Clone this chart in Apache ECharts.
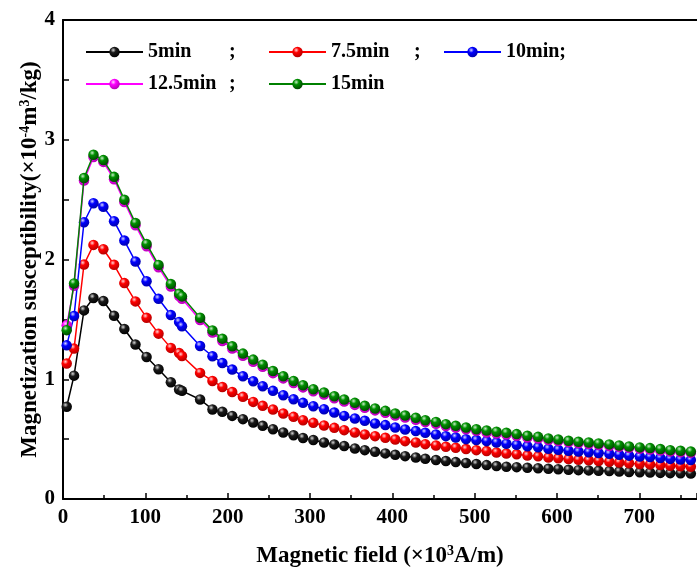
<!DOCTYPE html>
<html><head><meta charset="utf-8">
<script src="https://cdn.jsdelivr.net/npm/echarts@6/dist/echarts.min.js"></script>
<style>html,body{margin:0;padding:0;background:#fff}#c{width:697px;height:570px}</style>
</head><body><div id="c"></div>
<script>
const field = [4.5,13.4,25.5,37,49,62,74.5,88,101.5,116,131,141,144.5,166.5,181.5,193.5,205.5,218.5,231,242.5,255,267.5,280,291.5,304,317,329.5,341.5,354.5,366.5,379,391.5,403.5,415.5,428.5,440,453,465,477,489.5,502,514.5,526.5,538.5,551,564,577,589.5,601.5,614,626,638.5,650.5,663.5,675.5,687.5,700.5,713,725.5,737.5,750,762.5];

const s5min = [0.77,1.03,1.575,1.678,1.653,1.53,1.42,1.29,1.186,1.083,0.975,
  0.914,0.903,0.831,0.748,0.728,0.694,0.667,0.639,0.611,0.583,0.556,0.533,0.51,
  0.492,0.472,0.456,0.442,0.422,0.408,0.394,0.381,0.369,0.358,0.347,0.336,0.325,0.317,0.308,0.3,0.292,0.283,0.275,
  0.270,0.266,0.261,0.257,0.252,0.249,0.244,0.241,0.239,0.236,0.233,0.229,0.226,0.223,0.221,0.218,0.216,0.214,0.212];

const s7_5min = [1.131,1.256,1.958,2.122,2.086,1.956,1.803,1.65,1.514,1.381,1.262,
  1.219,1.194,1.053,0.986,0.936,0.894,0.853,0.811,0.778,0.747,0.714,0.686,0.658,
  0.636,0.614,0.594,0.575,0.556,0.539,0.525,0.511,0.497,0.483,0.472,0.458,0.447,0.436,0.428,0.417,0.408,0.4,0.389,
  0.380,0.373,0.363,0.356,0.347,0.340,0.333,0.327,0.323,0.317,0.311,0.305,0.299,0.293,0.289,0.283,0.277,0.273,0.269];

const s10min = [1.283,1.528,2.311,2.47,2.44,2.32,2.158,1.983,1.819,1.672,1.536,
  1.478,1.442,1.278,1.192,1.136,1.081,1.025,0.983,0.942,0.903,0.867,0.833,0.803,
  0.775,0.75,0.722,0.694,0.672,0.653,0.631,0.617,0.597,0.581,0.567,0.553,0.539,0.525,0.514,0.5,0.492,0.483,0.472,
  0.462,0.452,0.440,0.432,0.420,0.412,0.403,0.396,0.391,0.384,0.377,0.369,0.362,0.355,0.350,0.343,0.335,0.330,0.325];

const s12_5min = [1.45,1.78,2.66,2.855,2.815,2.67,2.48,2.285,2.11,1.935,1.775,
  1.695,1.672,1.495,1.39,1.32,1.256,1.196,1.146,1.104,1.051,1.007,0.968,0.932,
  0.9,0.872,0.841,0.814,0.786,0.761,0.74,0.72,0.698,0.681,0.662,0.643,0.629,0.61,0.596,0.583,0.569,0.555,0.547,
  0.539,0.528,0.514,0.505,0.493,0.484,0.473,0.465,0.459,0.451,0.443,0.435,0.427,0.419,0.413,0.405,0.396,0.391,0.385];

const s15min = [1.41,1.80,2.68,2.875,2.83,2.69,2.50,2.305,2.13,1.955,1.795,
  1.714,1.692,1.514,1.408,1.339,1.275,1.214,1.164,1.122,1.069,1.025,0.986,0.95,
  0.917,0.889,0.858,0.831,0.803,0.778,0.756,0.736,0.714,0.697,0.678,0.658,0.644,0.625,0.611,0.597,0.583,0.572,0.562,
  0.553,0.542,0.528,0.519,0.506,0.497,0.486,0.478,0.472,0.464,0.456,0.447,0.439,0.431,0.425,0.417,0.408,0.403,0.397];

const seriesNames = ['5min','7.5min','10min','12.5min','15min'];
const xTickLabels = [0,100,200,300,400,500,600,700];
const yTickLabels = [0,1,2,3,4];

const FONT = "'Liberation Serif','Times New Roman',serif";
const chart = echarts.init(document.getElementById('c'), null, {renderer:'canvas'});

function ball(light, base, dark){
  return new echarts.graphic.RadialGradient(0.38,0.32,0.72,[
    {offset:0,color:light},{offset:0.35,color:base},{offset:1,color:dark}]);
}
const styles = [
  {line:'#000000', ball:ball('#d8d8d8','#1a1a1a','#000000')},
  {line:'#ff0000', ball:ball('#ffd6d6','#ff0000','#b00000')},
  {line:'#0000ff', ball:ball('#d6d6ff','#0000ff','#0000a8')},
  {line:'#ff00ff', ball:ball('#ffd6ff','#ff00ff','#b000b0')},
  {line:'#008000', ball:ball('#c8ecc8','#009000','#004400')}
];
const dataSets = [s5min, s7_5min, s10min, s12_5min, s15min];

const series = dataSets.map((vals, k) => ({
  name: seriesNames[k],
  type: 'line',
  data: field.map((x, i) => [x, vals[i]]),
  symbol: 'circle',
  symbolSize: 10.5,
  showAllSymbol: true,
  lineStyle: {color: styles[k].line, width: 1.5},
  itemStyle: {color: styles[k].ball},
  z: 2 + k
}));

const txt = {fontFamily: FONT, fontWeight: 'bold', fontSize: 20, color: '#000'};
function legendAt(name, left, top, semiWidth){
  return {
    data: [name], left: left, top: top, padding: 0, itemGap: 0,
    itemWidth: 57, itemHeight: 13,
    textStyle: Object.assign({}, txt, {lineHeight: 20, rich: {
      a: Object.assign({}, txt, {width: semiWidth || undefined}),
      b: Object.assign({}, txt)
    }}),
    formatter: semiWidth ? (n) => '{a|' + n + '}{b|;}' : (n) => '{a|' + n + ';}'
  };
}

const option = {
  animation: false,
  backgroundColor: '#ffffff',
  grid: {left: 63, top: 20, right: 0, bottom: 71, containLabel: false, outerBoundsMode: 'none'},
  legend: [
    legendAt('5min', 85, 42, 81),
    legendAt('7.5min', 268, 42, 83),
    legendAt('10min', 443, 42, 0),
    legendAt('12.5min', 85, 74, 81),
    Object.assign(legendAt('15min', 268, 74, 0), {formatter: (n) => n})
  ],
  xAxis: [{
    type: 'value', min: xTickLabels[0], max: 770, interval: 100,
    name: 'Magnetic field (×10{sup|3}A/m)',
    nameLocation: 'middle', nameGap: 45, nameMoveOverlap: false,
    nameTextStyle: {fontFamily: FONT, fontWeight: 'bold', fontSize: 23, color: '#000',
      rich: {sup: {fontFamily: FONT, fontWeight: 'bold', fontSize: 14, color:'#000', padding: [0,0,10,0]}}},
    axisLine: {show: true, onZero: false, lineStyle: {color: '#000', width: 2}},
    axisTick: {show: true, inside: true, length: 6, lineStyle: {color:'#000', width: 1.5}},
    minorTick: {show: true, splitNumber: 2, length: 4, lineStyle: {color:'#000', width: 1.5}},
    axisLabel: {fontFamily: FONT, fontWeight: 'bold', fontSize: 21, color: '#000', margin: 8, showMaxLabel: false},
    splitLine: {show: false}
  }, {
    type: 'value', position: 'top', min: 0, max: 770,
    axisLine: {show: true, onZero: false, lineStyle: {color: '#000', width: 2}},
    axisTick: {show: false}, axisLabel: {show: false}, splitLine: {show: false}
  }],
  yAxis: {
    type: 'value', min: yTickLabels[0], max: yTickLabels[yTickLabels.length-1], interval: 1,
    name: 'Magnetization susceptibility(×10{sup|-4}m{sup|3}/kg)',
    nameLocation: 'middle', nameGap: 21, nameMoveOverlap: false,
    nameTextStyle: {fontFamily: FONT, fontWeight: 'bold', fontSize: 23, color: '#000',
      rich: {sup: {fontFamily: FONT, fontWeight: 'bold', fontSize: 14, color:'#000', padding: [0,0,10,0]}}},
    axisLine: {show: true, onZero: false, lineStyle: {color: '#000', width: 2}},
    axisTick: {show: true, inside: true, length: 6, lineStyle: {color:'#000', width: 1.5}},
    minorTick: {show: true, splitNumber: 2, length: 6, lineStyle: {color:'#000', width: 1.5}},
    axisLabel: {fontFamily: FONT, fontWeight: 'bold', fontSize: 21, color: '#000', margin: 8},
    splitLine: {show: false}
  },
  series: series
};
chart.setOption(option);
</script></body></html>
